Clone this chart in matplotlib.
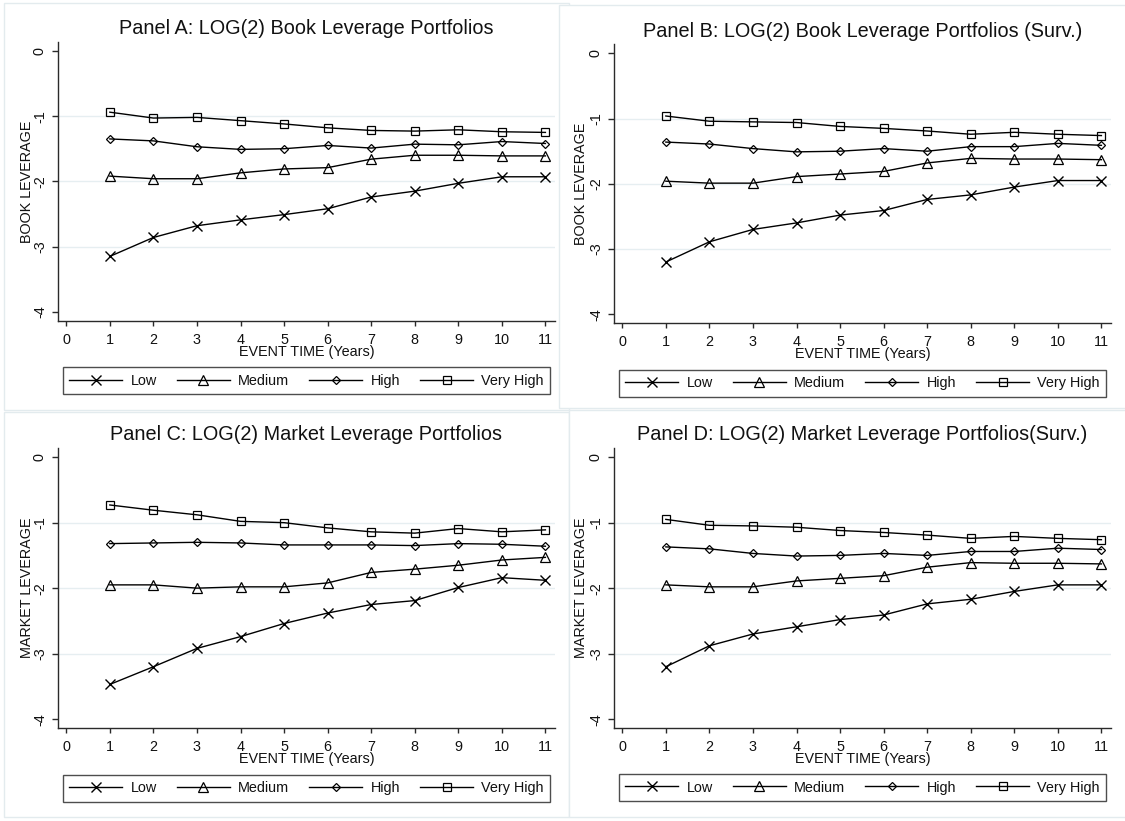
import matplotlib
matplotlib.use("Agg")
import matplotlib.pyplot as plt
from matplotlib.patches import Rectangle

plt.rcParams['font.family'] = ['Liberation Sans', 'DejaVu Sans']
plt.rcParams['axes.unicode_minus'] = False

years = [1, 2, 3, 4, 5, 6, 7, 8, 9, 10, 11]
x_ticks = [0, 1, 2, 3, 4, 5, 6, 7, 8, 9, 10, 11]
y_ticks = [0, -1, -2, -3, -4]
series_names = ["Low", "Medium", "High", "Very High"]

# Panel A: Book leverage
a_low = [-3.15, -2.86, -2.68, -2.59, -2.51, -2.42, -2.24, -2.15, -2.03, -1.93, -1.93]
a_medium = [-1.92, -1.96, -1.96, -1.87, -1.81, -1.79, -1.66, -1.60, -1.60, -1.61, -1.61]
a_high = [-1.35, -1.38, -1.47, -1.51, -1.50, -1.45, -1.49, -1.43, -1.44, -1.39, -1.42]
a_vhigh = [-0.94, -1.03, -1.02, -1.07, -1.12, -1.18, -1.22, -1.23, -1.21, -1.24, -1.25]

# Panel B: Book leverage (survivors)
b_low = [-3.20, -2.89, -2.70, -2.60, -2.48, -2.41, -2.24, -2.17, -2.05, -1.95, -1.95]
b_medium = [-1.96, -1.99, -1.99, -1.89, -1.85, -1.81, -1.68, -1.61, -1.62, -1.62, -1.63]
b_high = [-1.36, -1.39, -1.46, -1.51, -1.50, -1.46, -1.50, -1.43, -1.43, -1.38, -1.41]
b_vhigh = [-0.96, -1.04, -1.05, -1.06, -1.12, -1.15, -1.19, -1.24, -1.21, -1.24, -1.26]

# Panel C: Market leverage
c_low = [-3.47, -3.20, -2.92, -2.74, -2.54, -2.38, -2.25, -2.19, -1.99, -1.84, -1.88]
c_medium = [-1.95, -1.95, -2.00, -1.98, -1.98, -1.92, -1.76, -1.71, -1.65, -1.57, -1.53]
c_high = [-1.32, -1.31, -1.30, -1.31, -1.34, -1.34, -1.34, -1.35, -1.32, -1.33, -1.36]
c_vhigh = [-0.73, -0.81, -0.88, -0.98, -1.00, -1.08, -1.14, -1.16, -1.09, -1.14, -1.11]

# Panel D: Market leverage (survivors)
d_low = [-3.20, -2.88, -2.70, -2.59, -2.48, -2.41, -2.24, -2.17, -2.05, -1.95, -1.95]
d_medium = [-1.95, -1.98, -1.98, -1.89, -1.85, -1.81, -1.68, -1.61, -1.62, -1.62, -1.63]
d_high = [-1.37, -1.40, -1.47, -1.51, -1.50, -1.47, -1.50, -1.44, -1.44, -1.39, -1.41]
d_vhigh = [-0.95, -1.04, -1.05, -1.07, -1.12, -1.15, -1.19, -1.24, -1.21, -1.24, -1.26]

titles = ["Panel A: LOG(2) Book Leverage Portfolios",
          "Panel B: LOG(2) Book Leverage Portfolios (Surv.)",
          "Panel C: LOG(2) Market Leverage Portfolios",
          "Panel D: LOG(2) Market Leverage Portfolios(Surv.)"]
ylabels = ["BOOK LEVERAGE", "BOOK LEVERAGE", "MARKET LEVERAGE", "MARKET LEVERAGE"]
xlabel = "EVENT TIME (Years)"

panels = [
    [a_low, a_medium, a_high, a_vhigh],
    [b_low, b_medium, b_high, b_vhigh],
    [c_low, c_medium, c_high, c_vhigh],
    [d_low, d_medium, d_high, d_vhigh],
]

W, H = 1125, 821
fig = plt.figure(figsize=(W / 100, H / 100), dpi=100)
fig.patch.set_facecolor("white")

border_col = "#e3ebee"
# faint panel borders (pixel coords: x0, y0, x1, y1 from top-left)
for k, (x0, y0, x1, y1) in enumerate([(4, 3, 569, 410), (559, 5, 1130, 408),
                                      (4, 412, 569, 817), (569, 410, 1130, 817)]):
    rect = Rectangle((x0 / W, 1 - y1 / H), (x1 - x0) / W, (y1 - y0) / H,
                     transform=fig.transFigure, facecolor="white",
                     edgecolor=border_col, linewidth=1.0, zorder=-10 + k)
    fig.add_artist(rect)

# axes boxes in pixel coords: left, right, top, bottom
boxes = [(58, 555, 41.7, 321), (614, 1111, 44.3, 323.3),
         (58, 555, 448, 728.3), (614, 1111, 448, 728.3)]
title_y = [28.3, 31.7, 434, 435]
ylabel_x = [27.5, 581.0, 27.5, 581.0]
legend_center = [(306.4, 381), (862.4, 383.3), (306.4, 788), (862.4, 787.5)]

markers = [
    dict(marker="x", markersize=7, markeredgewidth=1.0, markerfacecolor="none"),
    dict(marker="^", markersize=6.5, markeredgewidth=0.9, markerfacecolor="none"),
    dict(marker="D", markersize=3.6, markeredgewidth=0.9, markerfacecolor="none"),
    dict(marker="s", markersize=6, markeredgewidth=0.9, markerfacecolor="none"),
]

fs = 10.4
for i, (series, box) in enumerate(zip(panels, boxes)):
    l, r, t, b = box
    ax = fig.add_axes([l / W, 1 - b / H, (r - l) / W, (b - t) / H], zorder=5)
    ax.set_facecolor("none")
    for gy in [-1, -2, -3]:
        ax.axhline(gy, color="#e6eef1", linewidth=1.0, zorder=0)
    handles = []
    for vals, name, mk in zip(series, series_names, markers):
        h, = ax.plot(years, vals, color="black", linewidth=1.0,
                     markeredgecolor="black", label=name, zorder=3, **mk)
        handles.append(h)
    ax.set_xlim(-0.19, 11.22)
    ax.set_ylim(-4.14, 0.14)
    ax.set_xticks(x_ticks)
    ax.set_yticks(y_ticks)
    ax.set_xticklabels([str(v) for v in x_ticks])
    ax.set_yticklabels([str(v) for v in y_ticks])
    for s in ["top", "right"]:
        ax.spines[s].set_visible(False)
    for s in ["left", "bottom"]:
        ax.spines[s].set_color("#2a2a2a")
        ax.spines[s].set_linewidth(1.0)
    ax.tick_params(axis="x", direction="out", length=3.5, width=1.0, pad=5,
                   labelsize=fs, colors="#2a2a2a", labelcolor="#111111")
    ax.tick_params(axis="y", direction="out", length=4, width=1.0, pad=4,
                   labelsize=fs, colors="#2a2a2a", labelcolor="#111111",
                   labelrotation=90)
    for lab in ax.get_yticklabels():
        lab.set_verticalalignment("center")
    hpx = b - t
    wpx = r - l
    ax.set_title(titles[i], fontsize=14.3, color="#111111", pad=0,
                 y=(b - title_y[i]) / hpx, va="center")
    ax.set_xlabel(xlabel, fontsize=fs, color="#111111")
    ax.xaxis.set_label_coords(0.5, -0.11)
    ax.xaxis.label.set_verticalalignment("center")
    ax.set_ylabel(ylabels[i], fontsize=fs, color="#111111")
    ax.yaxis.set_label_coords((ylabel_x[i] - l) / wpx, 0.5)
    ax.yaxis.label.set_verticalalignment("center")

    cx, cy = legend_center[i]
    leg = ax.legend(handles=handles, loc="center", ncol=4,
                    bbox_to_anchor=(cx / W, 1 - cy / H),
                    bbox_transform=fig.transFigure,
                    fontsize=fs, frameon=True, fancybox=False,
                    handlelength=3.7, handletextpad=0.55, columnspacing=1.38,
                    borderpad=0.45, borderaxespad=0)
    fr = leg.get_frame()
    fr.set_edgecolor("#222222")
    fr.set_linewidth(1.0)
    for txt in leg.get_texts():
        txt.set_color("#111111")

fig.savefig("out.png", dpi=100, facecolor="white")
